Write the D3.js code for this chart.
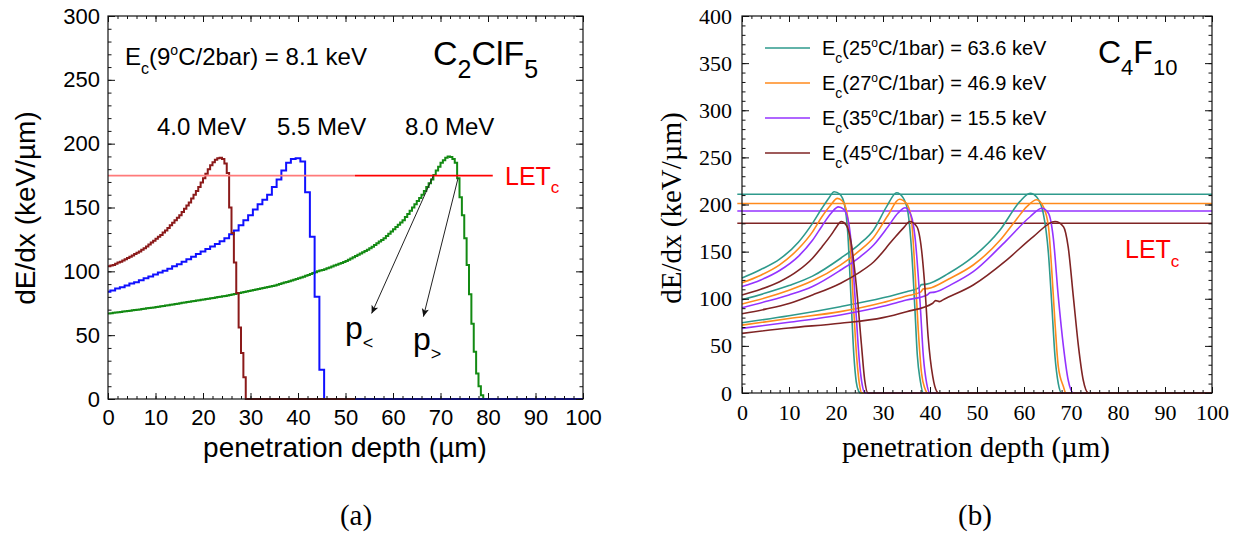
<!DOCTYPE html>
<html><head><meta charset="utf-8">
<script src="https://cdn.jsdelivr.net/npm/d3@7"></script>
<style>html,body{margin:0;padding:0;background:#fff;} svg{display:block}</style>
</head><body>
<svg id="chart" width="1241" height="536"></svg>
<script>
// ---------------- DATA: panel (a) C2ClF5 ----------------
const energyLabelsA = ["4.0 MeV", "5.5 MeV", "8.0 MeV"];
// 4.0 MeV histogram, 0.5 µm bins starting at 0 µm (zero afterwards up to 52 µm)
const hist40 = [104,104.5,105,106,107,107.5,108.5,109.5,110.5,111.5,
  112.5,113.5,114.5,115.5,117,118,119.5,121,122.5,124,
  125.5,127,128.5,130.5,132,134,136,138,140,142,
  144,146.5,149,151.5,154,157,160,163,166,169.5,
  173,176.5,180,183,185.5,187.5,188.5,189,188,184.5,
  177,150,130,107,83,56,36,17];
const hist40Start = 0, hist40Bin = 0.5, hist40End = 52;
// 5.5 MeV histogram, 1 µm bins centred on integer depths
const hist55 = [84,85,86.5,87.5,89,90.5,91.5,93,94.5,96,
  97.5,99,100.5,102,104,105.5,107.5,109.5,111.5,113.5,
  115.5,117.5,119.5,121.5,123.5,126,129,132,136,140,
  144,148.5,152.5,156,160,166,172,179,185,188,
  188.5,186,162,127,80,23];
const hist55Start = -0.5, hist55Bin = 1, hist55End = 100;
// 8.0 MeV histogram, 0.5 µm bins starting at 0 µm
const hist80 = [67,67.2,67.5,67.7,68,68.2,68.5,68.7,69,69.2,
  69.5,69.7,70,70.2,70.5,70.7,71,71.2,71.5,71.7,
  72,72.3,72.6,72.9,73.2,73.5,73.8,74.1,74.4,74.7,
  75,75.3,75.6,75.9,76.2,76.5,76.8,77.1,77.4,77.7,
  78,78.3,78.6,78.9,79.2,79.5,79.8,80.1,80.4,80.7,
  81,81.4,81.8,82.2,82.6,83,83.4,83.8,84.2,84.6,
  85,85.4,85.8,86.2,86.6,87,87.4,87.8,88.2,88.6,
  89,89.5,90.1,90.6,91.2,91.7,92.3,92.8,93.4,93.9,
  94.5,95.1,95.8,96.5,97.2,97.9,98.6,99.3,100,100.6,
  101,101.7,102.4,103.1,103.8,104.5,105.2,105.9,106.6,107.3,
  108,109,110,111,112,113,114,115,116,117,
  118,119.3,120.6,122,123.3,124.6,126,127.7,129.5,131.2,
  133,134.7,136.5,138.2,140,142.5,145,147.5,150,152.5,
  155,157.5,160,163,166,169,172,175.5,179,182,
  185,187,189,190,189.5,188,185,173,158,144,
  126,105,82,59,37,20,10,3];
const hist80Start = 0, hist80Bin = 0.5, hist80End = 100;
const letcA = 175;              // keV/µm
const letcAExtent = [0, 52, 81]; // faint part, strong part (µm)
const arrowsA = [ {label:"p<", from:[68.5,175], to:[55.5,67]},
                  {label:"p>", from:[73.7,173], to:[66.4,64.5]} ];
const xTicksA = d3.range(0, 101, 10);
const yTicksA = d3.range(0, 301, 50);

// ---------------- DATA: panel (b) C4F10 ----------------
const legendB = [["25","63.6"],["27","46.9"],["35","15.5"],["45","4.46"]];
const letcB = [211, 201, 193, 180];
const curves25 = [
  [[0,122],[4,131],[8,142],[12,160],[15,180],[17,196],[18.5,207],[19.6,213.5],[20.8,211],[21.8,200],[22.5,170],[23.2,100],[23.8,40],[24.3,12],[24.8,2],[25.2,0],[100,0]],
  [[0,99],[5,106],[10,114],[15,124],[21,143],[25,158],[28,173],[30.8,198],[32.9,212.5],[34.3,207],[35.3,192],[36.1,150],[36.8,88],[37.3,40],[37.9,14],[38.6,0],[100,0]],
  [[0,74.6],[10,82],[20.9,91.6],[30,101],[35,107.5],[37.6,111.5],[38.2,115],[39.3,115.5],[44,127],[49.2,144.6],[54.9,173],[59.1,203],[61.3,212],[62.7,208],[64.1,190.6],[65.2,148],[65.9,95],[66.6,38.5],[67.3,10],[68,0],[100,0]]
];
const curves27 = [
  [[0,117],[4,125],[8,136],[12,153],[15,171],[17,187],[18.8,199],[20.3,206.5],[21.3,204],[22.3,192],[23,160],[23.7,95],[24.4,38],[25,9],[25.5,0],[100,0]],
  [[0,94.5],[5,101],[10,109],[15,119],[21,136],[25,151],[28,165],[31,188],[33.5,205.5],[35,201],[36,186],[36.8,130],[37.5,67],[38.2,21],[38.9,5],[39.5,0],[100,0]],
  [[0,72],[10,79],[20.9,86.3],[30,96],[35,103],[38,107],[38.6,110.5],[39.7,111],[44,121],[49.2,135.8],[54.9,162],[58.5,185],[60.6,197.7],[62.7,205],[64.1,197.7],[65.2,176.5],[65.9,130.5],[66.6,74],[67.3,28],[68.4,6.7],[68.9,0],[100,0]]
];
const curves35 = [
  [[0,113],[4,120],[8,130],[12,145],[15,162],[17,177],[19,191],[20.5,197.5],[21.6,195],[22.6,183],[23.4,150],[24.2,90],[25,32],[25.6,8],[26.2,0],[100,0]],
  [[0,90.5],[5,97],[10,104],[15,113],[21,130.5],[25,144],[28,157],[31,176],[33.2,191],[34.7,196.5],[36,188],[36.8,166],[37.9,95],[38.6,38],[39.3,10],[40,0],[100,0]],
  [[0,68.6],[10,75],[20.9,82.8],[30,92],[35,98.7],[39.4,104],[40,106.5],[41,107],[44.5,115],[49.2,128.7],[56.3,162],[61.3,187],[63.8,196],[65.2,190.7],[66.2,166],[67.3,102],[68.4,49],[69.4,13.8],[70.5,0],[100,0]]
];
const curves45 = [
  [[0,104],[4,110],[8,118],[12,130],[15,143],[17,155],[19,168],[20.2,177],[21.1,182],[22.2,178],[23.2,160],[24.3,115],[25.4,52],[26.1,14],[26.8,0],[100,0]],
  [[0,84],[5,89],[10,95],[15,104],[21,116.5],[25,128],[28,139],[32,162],[34.5,176],[35.7,182],[37.2,176.5],[38.2,152],[38.9,113],[39.6,60],[40.6,17],[41.4,2],[41.9,0],[100,0]],
  [[0,63.3],[10,69],[20.9,74],[30,80],[35,86.3],[40.5,95],[41.2,98],[42,97],[43,99.5],[49.2,114.6],[56.3,141],[62,166],[66.6,182],[68.4,176.5],[69.4,155],[70.5,102],[71.6,49],[72.6,13.8],[73.7,0],[100,0]]
];
const xTicksB = d3.range(0, 101, 10);
const yTicksB = d3.range(0, 401, 50);

// ---------------- STYLE ----------------
const SANS = "'Liberation Sans', Arial, Helvetica, sans-serif";
const SERIF = "'Liberation Serif', 'Times New Roman', Times, serif";
const colA = {h40:"#8b1a1a", h55:"#1010ff", h80:"#138a13", letc:"#ff0000", letcFaint:"#ff7a7a"};
const colB = ["#2e9a8c", "#ff8a1c", "#9433ff", "#7f2424"];

const svg = d3.select("#chart");
const defs = svg.append("defs");

// rich text helper: parts = [[text, 'n'|'sub'|'sup'], ...]
function rich(g, x, y, parts, size, family, color, o = {}) {
  const subSize = o.subSize || size * 0.67, supSize = o.supSize || size * 0.55;
  const subShift = o.subShift || size * 0.4, supShift = o.supShift || size * 0.42;
  const t = g.append("text").attr("x", x).attr("y", y).attr("font-size", size)
    .attr("font-family", family).attr("fill", color);
  let off = 0;
  parts.forEach(([s, k]) => {
    const target = k === "sub" ? subShift : k === "sup" ? -supShift : 0;
    const ts = t.append("tspan").text(s).attr("dy", target - off);
    if (k === "sub") ts.attr("font-size", subSize);
    if (k === "sup") ts.attr("font-size", supSize);
    off = target;
  });
  return t;
}

function axesFrame(g, x, y, o) {
  const [x0, x1] = x.range(), [yb, yt] = y.range();
  const call = (axis, tr) => {
    const a = g.append("g").attr("transform", tr).call(axis);
    a.select(".domain").remove();
    a.selectAll("line").attr("stroke", "#111").attr("stroke-width", 1);
    a.selectAll("text").attr("font-family", o.font).attr("font-size", o.fs).attr("fill", "#000");
    return a;
  };
  call(d3.axisBottom(x).tickValues(o.xMinor).tickSizeInner(-o.minX).tickSizeOuter(0).tickFormat(""), `translate(0,${yb})`);
  call(d3.axisBottom(x).tickValues(o.xMajor).tickSizeInner(-o.majX).tickSizeOuter(0).tickPadding(o.xPad), `translate(0,${yb})`);
  call(d3.axisTop(x).tickValues(o.xMinor).tickSizeInner(-o.minX).tickSizeOuter(0).tickFormat(""), `translate(0,${yt})`);
  call(d3.axisTop(x).tickValues(o.xMajor).tickSizeInner(-o.majX).tickSizeOuter(0).tickFormat(""), `translate(0,${yt})`);
  call(d3.axisLeft(y).tickValues(o.yMinor).tickSizeInner(-o.minY).tickSizeOuter(0).tickFormat(""), `translate(${x0},0)`);
  call(d3.axisLeft(y).tickValues(o.yMajor).tickSizeInner(-o.majY).tickSizeOuter(0).tickPadding(o.yPad), `translate(${x0},0)`);
  call(d3.axisRight(y).tickValues(o.yMinor).tickSizeInner(-o.minY).tickSizeOuter(0).tickFormat(""), `translate(${x1},0)`);
  call(d3.axisRight(y).tickValues(o.yMajor).tickSizeInner(-o.majY).tickSizeOuter(0).tickFormat(""), `translate(${x1},0)`);
  g.append("rect").attr("x", x0).attr("y", yt).attr("width", x1 - x0).attr("height", yb - yt)
    .attr("fill", "none").attr("stroke", "#111").attr("stroke-width", 1.2);
}

// ================= PANEL (a) =================
const xA = d3.scaleLinear([0, 100], [108, 583]);
const yA = d3.scaleLinear([0, 300], [399, 16]);
const gA = svg.append("g");
defs.append("clipPath").attr("id", "clipA").append("rect")
  .attr("x", 108).attr("y", 10).attr("width", 476).attr("height", 391);

function histPoints(vals, start, bin, end) {
  const pts = vals.map((v, i) => [start + i * bin, v]);
  const last = start + vals.length * bin;
  pts.push([last, 0]); pts.push([end, 0]);
  return pts;
}
const stepLine = d3.line().x(d => xA(d[0])).y(d => yA(d[1])).curve(d3.curveStepAfter);
const histsA = [
  {pts: histPoints(hist80, hist80Start, hist80Bin, hist80End), c: colA.h80},
  {pts: histPoints(hist55, hist55Start, hist55Bin, hist55End), c: colA.h55},
  {pts: histPoints(hist40, hist40Start, hist40Bin, hist40End), c: colA.h40}
];
const histG = gA.append("g").attr("clip-path", "url(#clipA)");
histsA.forEach(h => histG.append("path").attr("d", stepLine(h.pts)).attr("fill", "none")
  .attr("stroke", h.c).attr("stroke-width", 2).attr("stroke-linejoin", "miter"));

// LET_c line
gA.append("line").attr("x1", xA(letcAExtent[0])).attr("x2", xA(letcAExtent[1]))
  .attr("y1", yA(letcA)).attr("y2", yA(letcA)).attr("stroke", colA.letcFaint).attr("stroke-width", 1.8);
gA.append("line").attr("x1", xA(letcAExtent[1])).attr("x2", xA(letcAExtent[2]))
  .attr("y1", yA(letcA)).attr("y2", yA(letcA)).attr("stroke", colA.letc).attr("stroke-width", 1.6);

axesFrame(gA, xA, yA, {font: SANS, fs: 22, xMajor: xTicksA, xMinor: d3.range(0, 101, 2),
  yMajor: yTicksA, yMinor: d3.range(0, 301, 10), majX: 6, minX: 3, majY: 7, minY: 3.5, xPad: 10, yPad: 8});

// arrows
defs.append("marker").attr("id", "arrow").attr("viewBox", "0 0 10 10").attr("refX", 10).attr("refY", 5)
  .attr("markerUnits", "userSpaceOnUse").attr("markerWidth", 10).attr("markerHeight", 8).attr("orient", "auto")
  .append("path").attr("d", "M0,0.5 L10,5 L0,9.5 L2.5,5 z").attr("fill", "#111");
arrowsA.forEach(a => gA.append("line").attr("x1", xA(a.from[0])).attr("y1", yA(a.from[1]))
  .attr("x2", xA(a.to[0])).attr("y2", yA(a.to[1])).attr("stroke", "#222").attr("stroke-width", 1)
  .attr("marker-end", "url(#arrow)"));

// texts panel (a)
rich(gA, 125, 65, [["E","n"],["c","sub"],["(9","n"],["o","sup"],["C/2bar) = 8.1 keV","n"]], 24, SANS, "#000",
  {subShift: 9, supShift: 10, supSize: 14, subSize: 16});
rich(gA, 433, 65, [["C","n"],["2","sub"],["ClF","n"],["5","sub"]], 34, SANS, "#000", {subShift: 13, subSize: 25});
const eX = [157, 277, 405];
energyLabelsA.forEach((s, i) => gA.append("text").attr("x", eX[i]).attr("y", 135).attr("font-size", 24)
  .attr("font-family", SANS).text(s));
rich(gA, 505, 185, [["LET","n"],["c","sub"]], 25, SANS, colA.letc, {subShift: 8, subSize: 17});
rich(gA, 345, 339, [["p","n"],["<","sub"]], 32, SANS, "#000", {subShift: 10, subSize: 18});
rich(gA, 413, 350, [["p","n"],[">","sub"]], 32, SANS, "#000", {subShift: 10, subSize: 18});
gA.append("text").attr("x", 345).attr("y", 457).attr("text-anchor", "middle").attr("font-size", 28)
  .attr("font-family", SANS).text("penetration depth (µm)");
gA.append("text").attr("transform", "translate(35,208) rotate(-90)").attr("text-anchor", "middle")
  .attr("font-size", 28).attr("font-family", SANS).text("dE/dx (keV/µm)");
gA.append("text").attr("x", 356).attr("y", 525).attr("text-anchor", "middle").attr("font-size", 29)
  .attr("font-family", SERIF).text("(a)");

// ================= PANEL (b) =================
const xB = d3.scaleLinear([0, 100], [742, 1212]);
const yB = d3.scaleLinear([0, 400], [393, 16]);
const gB = svg.append("g");
defs.append("clipPath").attr("id", "clipB").append("rect")
  .attr("x", 735).attr("y", 16).attr("width", 477).attr("height", 378);

// LET_c lines
letcB.forEach((v, i) => gB.append("line").attr("x1", xB(-1)).attr("x2", xB(100))
  .attr("y1", yB(v)).attr("y2", yB(v)).attr("stroke", colB[i]).attr("stroke-width", 1.5));

const smooth = d3.line().x(d => xB(d[0])).y(d => yB(d[1])).curve(d3.curveMonotoneX);
const curveG = gB.append("g").attr("clip-path", "url(#clipB)");
[curves25, curves27, curves35, curves45].forEach((set, i) => set.forEach(c =>
  curveG.append("path").attr("d", smooth(c)).attr("fill", "none").attr("stroke", colB[i])
    .attr("stroke-width", 1.6)));

axesFrame(gB, xB, yB, {font: SERIF, fs: 22, xMajor: xTicksB, xMinor: d3.range(0, 101, 2),
  yMajor: yTicksB, yMinor: d3.range(0, 401, 10), majX: 6, minX: 3, majY: 7, minY: 3.5, xPad: 11, yPad: 10});

// legend
legendB.forEach(([t, e], i) => {
  const yy = 48 + i * 35;
  gB.append("line").attr("x1", 765).attr("x2", 810).attr("y1", yy).attr("y2", yy)
    .attr("stroke", colB[i]).attr("stroke-width", 1.6);
  rich(gB, 822, yy + 7, [["E","n"],["c","sub"],["(" + t,"n"],["o","sup"],["C/1bar) = " + e + " keV","n"]],
    20, SANS, "#000", {subShift: 8, supShift: 8, supSize: 12, subSize: 14});
});
rich(gB, 1098, 63, [["C","n"],["4","sub"],["F","n"],["10","sub"]], 32, SANS, "#000", {subShift: 12, subSize: 22});
rich(gB, 1125, 258, [["LET","n"],["c","sub"]], 25, SANS, "#ff0000", {subShift: 9, subSize: 17});
gB.append("text").attr("x", 976).attr("y", 457).attr("text-anchor", "middle").attr("font-size", 29)
  .attr("font-family", SERIF).text("penetration depth (µm)");
gB.append("text").attr("transform", "translate(681,208) rotate(-90)").attr("text-anchor", "middle")
  .attr("font-size", 29).attr("font-family", SERIF).text("dE/dx (keV/µm)");
gB.append("text").attr("x", 975).attr("y", 525).attr("text-anchor", "middle").attr("font-size", 29)
  .attr("font-family", SERIF).text("(b)");
</script></body></html>
